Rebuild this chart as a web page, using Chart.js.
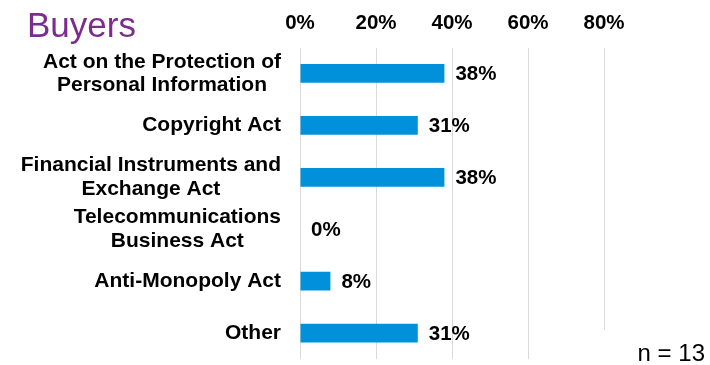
<!DOCTYPE html>
<html>
<head>
<meta charset="utf-8">
<script src="https://cdn.jsdelivr.net/npm/chart.js@4.4.1/dist/chart.umd.min.js"></script>
<style>
  html, body { margin: 0; padding: 0; background: #ffffff; }
  #wrap { position: relative; width: 710px; height: 365px; }
</style>
</head>
<body>
<div id="wrap"><canvas id="chart" width="710" height="365"></canvas></div>
<script>
// Laws that buyers reported as relevant (share of respondents, %)
const categories = [
  ['Act on the Protection of', 'Personal Information'],
  ['Copyright Act'],
  ['Financial Instruments and', 'Exchange Act'],
  ['Telecommunications', 'Business Act'],
  ['Anti-Monopoly Act'],
  ['Other']
];
const shares = [38, 31, 38, 0, 8, 31];
const tickValues = [0, 20, 40, 60, 80];
const chartTitle = 'Buyers';
const sampleNote = 'n = 13';

const FONT = '"Liberation Sans", Arial, sans-serif';

// Category names, centred line by line, right-aligned against the plot
const categoryLabels = {
  id: 'categoryLabels',
  afterDraw(chart) {
    const { ctx, scales } = chart;
    const y = scales.y;
    const lineH = 23.5;
    ctx.save();
    ctx.font = 'bold 21px ' + FONT;
    ctx.fillStyle = '#000000';
    ctx.textBaseline = 'middle';
    ctx.textAlign = 'center';
    const right = chart.chartArea.left - 19;
    categories.forEach((lines, i) => {
      const cy = y.getPixelForValue(i);
      const widths = lines.map(l => ctx.measureText(l).width);
      const maxW = Math.max(...widths);
      const cx = right - maxW / 2;
      const top = cy - (lines.length - 1) * lineH / 2;
      lines.forEach((l, k) => ctx.fillText(l, cx, top + k * lineH));
    });
    ctx.restore();
  }
};

// Value labels at the end of each bar
const valueLabels = {
  id: 'valueLabels',
  afterDatasetsDraw(chart) {
    const { ctx } = chart;
    const meta = chart.getDatasetMeta(0);
    ctx.save();
    ctx.font = 'bold 20.5px ' + FONT;
    ctx.fillStyle = '#000000';
    ctx.textBaseline = 'middle';
    ctx.textAlign = 'left';
    meta.data.forEach((bar, i) => {
      ctx.fillText(shares[i] + '%', bar.x + 11, bar.y + 1);
    });
    ctx.restore();
  }
};

// Title and sample-size note
const annotations = {
  id: 'annotations',
  afterDraw(chart) {
    const { ctx } = chart;
    ctx.save();
    ctx.font = '35px ' + FONT;
    ctx.fillStyle = '#7B2C8C';
    ctx.textBaseline = 'alphabetic';
    ctx.textAlign = 'left';
    ctx.fillText(chartTitle, 27, 37);

    ctx.fillStyle = '#ffffff';
    ctx.fillRect(592, 330, 118, 35);
    ctx.font = '24px ' + FONT;
    ctx.fillStyle = '#000000';
    ctx.textAlign = 'right';
    ctx.fillText(sampleNote, 705, 361);
    ctx.restore();
  }
};

new Chart(document.getElementById('chart'), {
  type: 'bar',
  data: {
    labels: categories,
    datasets: [{
      data: shares,
      backgroundColor: '#0091DA',
      borderWidth: 0,
      categoryPercentage: 1,
      barPercentage: 0.36
    }]
  },
  options: {
    indexAxis: 'y',
    responsive: false,
    animation: false,
    layout: { padding: { left: 300, right: 106, top: 0, bottom: 6 } },
    plugins: {
      legend: { display: false },
      tooltip: { enabled: false }
    },
    scales: {
      x: {
        position: 'top',
        min: tickValues[0],
        max: tickValues[tickValues.length - 1],
        afterBuildTicks(scale) {
          scale.ticks = tickValues.map(v => ({ value: v }));
        },
        afterFit(scale) {
          scale.height = 47.5;
        },
        grid: { color: '#D9D9D9', lineWidth: 1, drawTicks: false },
        border: { display: false },
        ticks: {
          padding: 12,
          color: '#000000',
          font: { family: FONT, size: 20.5, weight: 'bold' },
          callback: v => v + '%'
        }
      },
      y: {
        display: false
      }
    }
  },
  plugins: [categoryLabels, valueLabels, annotations]
});
</script>
</body>
</html>
